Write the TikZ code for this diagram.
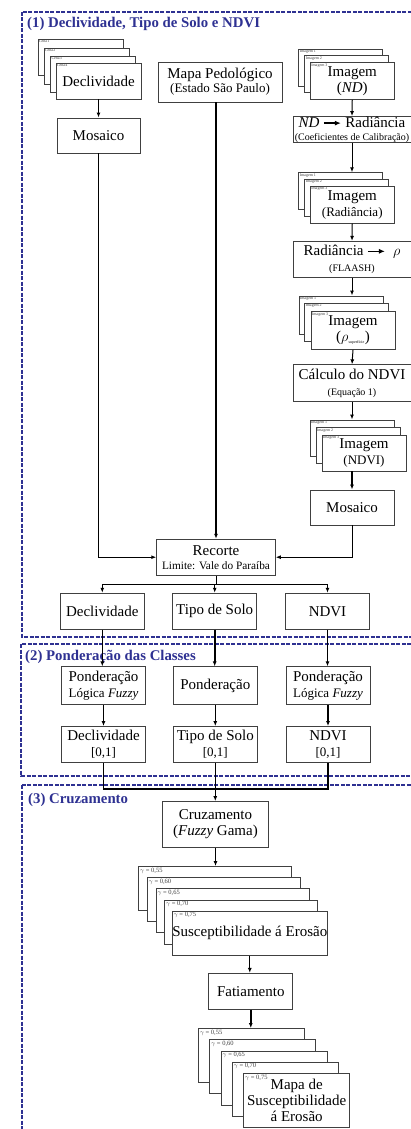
\documentclass[tikz,border=0pt]{standalone}
\usepackage{fontspec}
\setmainfont{Liberation Serif}
\usepackage{tikz}
\usetikzlibrary{shapes, arrows, arrows.meta, calc, positioning}
\definecolor{frameblue}{RGB}{46,49,146}
\definecolor{boxgray}{RGB}{64,64,64}
\newcommand{\bigtxt}{\fontsize{15}{16}\selectfont}
\newcommand{\midtxt}{\fontsize{13}{14}\selectfont}
\newcommand{\smalltxt}{\fontsize{10}{11}\selectfont}
\newcommand{\tinytxt}{\fontsize{4}{4}\selectfont}
\newcommand{\gamtxt}{\fontsize{6.5}{7}\selectfont}
\newcommand{\rarrow}{\tikz[baseline=-0.6ex]\draw[-{Latex[length=6pt,width=5pt]}, line width=1.3pt] (0pt,0pt) -- (17pt,0pt);}
\tikzstyle{block} = [rectangle, draw=boxgray, fill=white, line width=0.9pt,
    inner sep=0pt, align=center, font=\bigtxt]
\tikzstyle{pagelabel} = [anchor=north west, inner sep=1.3pt, font=\tinytxt, text=black!75]
\tikzstyle{gamlabel} = [anchor=north west, inner sep=1.5pt, font=\gamtxt, text=black!75]
\tikzstyle{line} = [draw, line width=1pt, -{Latex[length=5pt,width=4pt]}]
\tikzstyle{thickline} = [line, line width=1.6pt]
\tikzstyle{frame} = [draw=frameblue, line width=1.4pt, dash pattern=on 4pt off 1.5pt]
\tikzstyle{title} = [anchor=west, inner sep=0pt, text=frameblue,
    font=\fontsize{14.8}{16}\selectfont\bfseries]

\begin{document}
\begin{tikzpicture}[x=1pt, y=-1pt,
    declSize/.style={minimum width=85pt, minimum height=36pt},
    imgSize/.style={minimum width=84pt, minimum height=37pt},
    wideSize/.style={minimum width=118pt, minimum height=36pt},
    rowSize/.style={minimum width=84pt, minimum height=36pt},
    suscSize/.style={minimum width=153pt, minimum height=44pt},
    mapSize/.style={minimum width=106pt, minimum height=54pt}
    ]
    \useasboundingbox (0,0) rectangle (411,1129);
    \clip (0,0) rectangle (411,1129);

    % Frames
    \draw[frame] (22,12) rectangle (425,637);
    \draw[frame] (21,644) rectangle (425,776);
    \draw[frame] (22,785) rectangle (425,1140);
    \node [title] (title1) at (27,24) {(1) Declividade, Tipo de Solo e NDVI};
    \node [title] (title2) at (25,657) {(2) Ponderação das Classes};
    \node [title] (title3) at (28,800) {(3) Cruzamento};

    % Declividade
    \node [block, declSize] (decl1) at (80.5,57) {};
    \node [pagelabel] (cena1) at (decl1.north west) {Cena1};
    \node [block, declSize] (decl2) at (86.5,66) {};
    \node [pagelabel] (cena2) at (decl2.north west) {Cena2};
    \node [block, declSize] (decl3) at (93,74) {};
    \node [pagelabel] (cena3) at (decl3.north west) {Cena3};
    \node [block, declSize] (decl4) at (98.5,81) {Declividade};
    \node [pagelabel] (cena4) at (decl4.north west) {Cena4};
    \node [block, minimum width=83pt, minimum height=35pt] (mosaicoL) at (98.5,135.5) {Mosaico};

    % Mapa
    \node [block, minimum width=124pt, minimum height=40pt] (mapa) at (220,82)
        {Mapa Pedológico\\[-2pt]{\midtxt (Estado São Paulo)}};

    % NDVI
    \node [block, imgSize] (imgND1) at (340.75,67.5) {};
    \node [pagelabel] (nd1) at (imgND1.north west) {Imagem 1};
    \node [block, imgSize] (imgND2) at (346.75,74.2) {};
    \node [pagelabel] (nd2) at (imgND2.north west) {Imagem 2};
    \node [block, imgSize] (imgND3) at (352.25,81) {Imagem\\(\textit{ND})};
    \node [pagelabel] (nd3) at (imgND3.north west) {Imagem 3};

    \node [block, wideSize, minimum height=26pt] (ndrad) at (352,129.6)
        {\textit{ND} \rarrow{} Radiância\\[-3pt]{\smalltxt (Coeficientes de Calibração)}};

    \node [block, imgSize] (imgRad1) at (340.75,191.2) {};
    \node [pagelabel] (rad1) at (imgRad1.north west) {Imagem 1};
    \node [block, imgSize] (imgRad2) at (346.75,197.7) {};
    \node [pagelabel] (rad2) at (imgRad2.north west) {Imagem 2};
    \node [block, imgSize] (imgRad3) at (352.25,204.7) {Imagem\\{\midtxt (Radiância)}};
    \node [pagelabel] (rad3) at (imgRad3.north west) {Imagem 3};

    \node [block, wideSize] (radrho) at (352,259.3)
        {Radiância \rarrow{} \ $\rho$\\{\smalltxt (FLAASH)}};

    \node [block, imgSize, minimum height=38pt] (imgRho1) at (341,315) {};
    \node [pagelabel] (rho1) at (imgRho1.north west) {Imagem 1};
    \node [block, imgSize, minimum height=38pt] (imgRho2) at (346.5,322) {};
    \node [pagelabel] (rho2) at (imgRho2.north west) {Imagem 2};
    \node [block, imgSize, minimum height=38pt] (imgRho3) at (353,330.5)
        {Imagem\\($\rho_{\mbox{\tinytxt superfície}}$)};
    \node [pagelabel] (rho3) at (imgRho3.north west) {Imagem 3};

    \node [block, wideSize, minimum height=37pt] (calc) at (352,383.3)
        {Cálculo do NDVI\\{\smalltxt (Equação 1)}};

    \node [block, imgSize, minimum height=36pt] (imgNDVI1) at (352,438) {};
    \node [pagelabel] (ndvi1) at (imgNDVI1.north west) {Imagem 1};
    \node [block, imgSize, minimum height=36pt] (imgNDVI2) at (358,445.7) {};
    \node [pagelabel] (ndvi2) at (imgNDVI2.north west) {Imagem 2};
    \node [block, imgSize, minimum height=36pt] (imgNDVI3) at (364,453) {Imagem\\{\midtxt (NDVI)}};
    \node [pagelabel] (ndvi3) at (imgNDVI3.north west) {Imagem 3};

    \node [block, rowSize, minimum height=35pt] (mosaicoR) at (352,507.5) {Mosaico};

    % Recorte
    \node [block, minimum width=118.6pt, minimum height=36pt] (recorte) at (216,557.2)
        {Recorte\\[-2pt]{\fontsize{11.3}{12}\selectfont Limite: Vale do Paraíba}};

    \node [block, rowSize] (declR) at (102.3,611.2) {Declividade};
    \node [block, rowSize] (tipoR) at (214.7,611.2) {Tipo de Solo};
    \node [block, rowSize] (ndviR) at (327.5,611.2) {NDVI};

    % Ponderacao
    \node [block, rowSize, minimum height=38pt] (pondL) at (103.5,685.8)
        {Ponderação\\{\midtxt Lógica \textit{Fuzzy}}};
    \node [block, rowSize, minimum height=38pt] (pondM) at (215.3,685.8) {Ponderação};
    \node [block, rowSize, minimum height=38pt] (pondR) at (328,685.8)
        {Ponderação\\{\midtxt Lógica \textit{Fuzzy}}};

    \node [block, rowSize] (decl01) at (103.5,744.5) {Declividade\\{\midtxt [0,1]}};
    \node [block, rowSize] (tipo01) at (215.3,744.5) {Tipo de Solo\\{\midtxt [0,1]}};
    \node [block, rowSize] (ndvi01) at (328,744.5) {NDVI\\{\midtxt [0,1]}};

    % Cruzamento
    \node [block, minimum width=106pt, minimum height=46pt] (cruz) at (215.5,824.5)
        {Cruzamento\\(\textit{Fuzzy} Gama)};

    \node [block, suscSize] (susc1) at (215.2,888.5) {};
    \node [gamlabel] (gam1) at (susc1.north west) {$\gamma$ = 0,55};
    \node [block, suscSize] (susc2) at (223.85,899.65) {};
    \node [gamlabel] (gam2) at (susc2.north west) {$\gamma$ = 0,60};
    \node [block, suscSize] (susc3) at (232.5,910.8) {};
    \node [gamlabel] (gam3) at (susc3.north west) {$\gamma$ = 0,65};
    \node [block, suscSize] (susc4) at (241.15,921.95) {};
    \node [gamlabel] (gam4) at (susc4.north west) {$\gamma$ = 0,70};
    \node [block, suscSize] (susc5) at (249.8,933.1) {Susceptibilidade á Erosão};
    \node [gamlabel] (gam5) at (susc5.north west) {$\gamma$ = 0,75};

    \node [block, rowSize] (fatia) at (250.8,991.3) {Fatiamento};

    \node [block, mapSize] (map1) at (251.5,1055.5) {};
    \node [gamlabel] (mgam1) at (map1.north west) {$\gamma$ = 0,55};
    \node [block, mapSize] (map2) at (262.8,1066.75) {};
    \node [gamlabel] (mgam2) at (map2.north west) {$\gamma$ = 0,60};
    \node [block, mapSize] (map3) at (274.1,1078) {};
    \node [gamlabel] (mgam3) at (map3.north west) {$\gamma$ = 0,65};
    \node [block, mapSize] (map4) at (285.4,1089.25) {};
    \node [gamlabel] (mgam4) at (map4.north west) {$\gamma$ = 0,70};
    \node [block, mapSize] (map5) at (296.7,1100.5) {Mapa de\\Susceptibilidade\\á Erosão};
    \node [gamlabel] (mgam5) at (map5.north west) {$\gamma$ = 0,75};

    % Edges
    \coordinate (split) at ($(recorte.south)+(0,9.3)$);
    \coordinate (merge) at ($(tipo01.south)+(0,26)$);

    \path [thickline] (decl4.south -| mosaicoL.north) -- (mosaicoL.north);
    \path [line] (mosaicoL.south) |- (recorte.west);
    \path [thickline] (mapa.south -| recorte.north) -- (recorte.north);

    \path [line] (imgND3.south) -- (ndrad.north);
    \path [line] (ndrad.south) -- (imgRad1.north -| ndrad.south);
    \path [line] (imgRad3.south) -- (radrho.north);
    \path [line] (radrho.south) -- (imgRho1.north -| radrho.south);
    \path [line] (imgRho3.south) -- (calc.north);
    \path [line] (calc.south) -- (imgNDVI1.north);
    \path [thickline] (imgNDVI3.south -| mosaicoR.north) -- (mosaicoR.north);
    \path [line] (mosaicoR.south) |- (recorte.east);

    \path [draw, line width=1pt] (recorte.south) -- (split);
    \path [line] (split) -| (declR.north);
    \path [line] (split) -| (ndviR.north);
    \path [line] (split) -| (tipoR.north);

    \path [thickline] (declR.south) -- (declR.south |- pondL.north);
    \path [thickline] (tipoR.south) -- (tipoR.south |- pondM.north);
    \path [thickline] (ndviR.south) -- (ndviR.south |- pondR.north);

    \path [thickline] (pondL.south) -- (decl01.north);
    \path [line] (pondM.south) -- (tipo01.north);
    \path [thickline] (pondR.south) -- (ndvi01.north);

    \path [draw, line width=1.1pt] (decl01.south) |- (merge) -| (ndvi01.south);
    \path [thickline] (tipo01.south) -- (tipo01.south |- cruz.north);

    \path [thickline] (cruz.south) -- (cruz.south |- susc1.north);
    \path [line] (susc5.south) -- (susc5.south |- fatia.north);
    \path [thickline] (fatia.south) -- (fatia.south |- map1.north);
\end{tikzpicture}
\end{document}
